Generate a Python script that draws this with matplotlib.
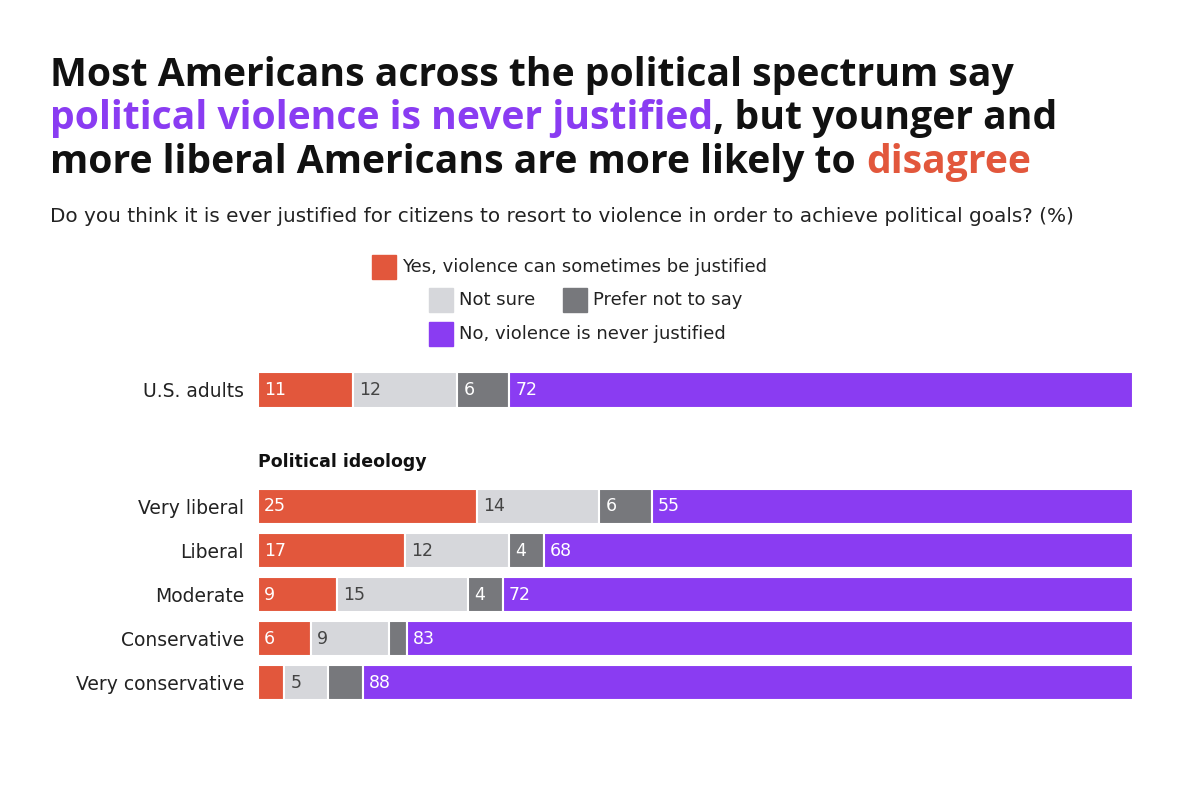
import numpy as np
import matplotlib.pyplot as plt

groups = ["U.S. adults", "Very liberal", "Liberal", "Moderate", "Conservative", "Very conservative"]
yes_vals = [11, 25, 17, 9, 6, 3]
notsure_vals = [12, 14, 12, 15, 9, 5]
prefer_vals = [6, 6, 4, 4, 2, 4]
no_vals = [72, 55, 68, 72, 83, 88]
yes_labels = ["11", "25", "17", "9", "6", ""]
prefer_labels = ["6", "6", "4", "4", "", ""]

RED = "#E2573C"
LIGHT = "#D6D7DB"
DARK = "#77787C"
PURPLE = "#8A3CF2"
TFONT = "Open Sans"
FONT = "DejaVu Sans"

W, H = 1192, 785
fig = plt.figure(figsize=(W / 100, H / 100), dpi=100)
fig.patch.set_facecolor("white")
renderer = fig.canvas.get_renderer()

ypos = [-2.64, 0, 1, 2, 3, 4]
y_top, y_bot = -3.32, 4.39
ax = fig.add_axes([258 / W, 1 - 700 / H, (1133 - 258) / W, (700 - 360) / H])
ax.set_xlim(0, 101)
ax.set_ylim(y_bot, y_top)
for s in ax.spines.values():
    s.set_visible(False)
ax.set_xticks([])
ax.set_yticks(ypos)
ax.set_yticklabels(groups, fontsize=13.5, family=FONT, color="#222222")
ax.tick_params(axis="y", length=0, pad=10)

series = [(yes_vals, RED, "white"), (notsure_vals, LIGHT, "#444444"),
          (prefer_vals, DARK, "white"), (no_vals, PURPLE, "white")]
for i, y in enumerate(ypos):
    total = yes_vals[i] + notsure_vals[i] + prefer_vals[i] + no_vals[i]
    left = 0
    for k, (vals, col, tcol) in enumerate(series):
        w = vals[i] * 101 / total
        ax.barh(y, w, left=left, height=0.8, color=col, edgecolor="white", linewidth=1.5)
        if k == 0:
            lab = yes_labels[i]
        elif k == 2:
            lab = prefer_labels[i]
        else:
            lab = str(vals[i])
        if lab:
            ax.text(left + 0.7, y, lab, va="center", ha="left", fontsize=12.5,
                    color=tcol, family=FONT)
        left += w

ax.text(0, -1.0, "Political ideology", fontsize=12.5, fontweight="bold",
        family=FONT, va="center", ha="left", color="#111111")


def draw_line(pieces, x_px, y_px, size, family, weight="bold"):
    x = x_px
    for txt, col in pieces:
        t = fig.text(x / W, 1 - y_px / H, txt, fontsize=size, fontweight=weight,
                     color=col, family=family, va="baseline", ha="left")
        x += t.get_window_extent(renderer).width
    return x - x_px


# fit title size so the first line spans ~962 px
probe = fig.text(0, 0, "Most Americans across the political spectrum say", fontsize=20,
                 fontweight="bold", family=TFONT)
TS = 20 * 962 / probe.get_window_extent(renderer).width
probe.remove()

draw_line([("Most Americans across the political spectrum say", "#111111")], 50, 86, TS, TFONT)
draw_line([("political violence is never justified", PURPLE),
           (", but younger and", "#111111")], 50, 129, TS, TFONT)
draw_line([("more liberal Americans are more likely to ", "#111111"),
           ("disagree", RED)], 50, 173, TS, TFONT)

sub = "Do you think it is ever justified for citizens to resort to violence in order to achieve political goals? (%)"
probe = fig.text(0, 0, sub, fontsize=12, family=FONT)
SS = 12 * 1015 / probe.get_window_extent(renderer).width
probe.remove()
fig.text(50 / W, 1 - 222 / H, sub, fontsize=SS, family=FONT, color="#222222", va="baseline")


def legend_item(x_px, y_px, col, label):
    fig.patches.append(plt.Rectangle((x_px / W, 1 - (y_px + 12) / H), 24 / W, 24 / H,
                                     color=col, transform=fig.transFigure))
    fig.text((x_px + 30) / W, 1 - y_px / H, label, fontsize=13, family=FONT,
             color="#222222", va="center")


legend_item(372, 267, RED, "Yes, violence can sometimes be justified")
legend_item(429, 300, LIGHT, "Not sure")
legend_item(563, 300, DARK, "Prefer not to say")
legend_item(429, 334, PURPLE, "No, violence is never justified")

fig.savefig("out.png", dpi=100, facecolor="white")
